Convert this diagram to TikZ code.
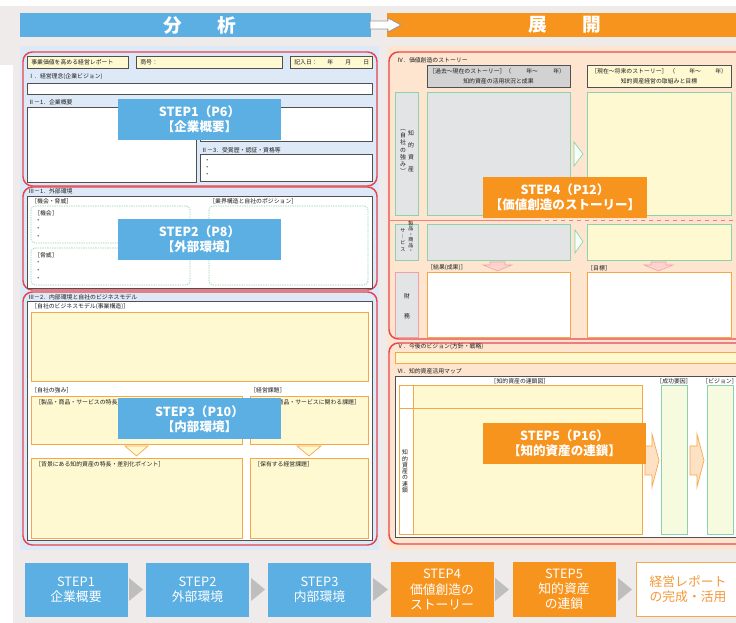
\documentclass[tikz,border=0pt]{standalone}
\usepackage{fontspec}
\setmainfont{Noto Sans CJK JP}
\definecolor{bl}{RGB}{91,175,226}
\definecolor{orn}{RGB}{247,148,30}
\definecolor{lbg}{RGB}{221,233,246}
\definecolor{rbg}{RGB}{253,229,208}
\definecolor{obg}{RGB}{238,235,234}
\definecolor{red1}{RGB}{230,70,80}
\definecolor{yl}{RGB}{255,249,210}
\definecolor{ob}{RGB}{246,168,73}
\definecolor{gb}{RGB}{140,210,172}
\definecolor{gf}{RGB}{227,228,230}
\definecolor{dk}{RGB}{80,80,80}
\definecolor{gh}{RGB}{210,210,210}
\definecolor{pk}{RGB}{244,160,160}
\definecolor{pk2}{RGB}{240,130,130}
\definecolor{pkf}{RGB}{252,212,205}
\definecolor{tri}{RGB}{190,190,190}
\definecolor{txt}{RGB}{30,30,30}
\definecolor{gy2}{RGB}{246,250,222}
\definecolor{baf}{RGB}{253,225,195}
\definecolor{orl}{RGB}{243,154,58}
\tikzset{
  tx/.style={font=\fontsize{4.4}{5}\selectfont, text=txt, inner sep=0pt, anchor=west},
  txc/.style={tx, anchor=center},
  vt/.style={font=\fontsize{4.4}{#1}\selectfont, text=txt, inner sep=0pt, align=center},
  redbox/.style={draw=red1, line width=1.1pt, rounded corners=7pt},
  dkbox/.style={draw=dk, line width=0.7pt},
  yb/.style={fill=yl, draw=ob, line width=0.6pt},
  gbx/.style={fill=gf, draw=gb, line width=0.6pt},
  gyb/.style={fill=yl, draw=gb, line width=0.6pt},
  wob/.style={fill=white, draw=ob, line width=0.6pt},
  dgb/.style={fill=white, draw=gb, line width=0.5pt, dash pattern=on 1pt off 0.8pt, rounded corners=3pt},
  lbl/.style={text=white, font=\bfseries\fontsize{9.4}{11.5}\selectfont, align=center, minimum width=122.5pt, minimum height=30.75pt, inner sep=0pt},
  bst/.style={text=white, font=\fontsize{9.6}{11.3}\selectfont, align=center, minimum width=77.25pt, minimum height=40.5pt, inner sep=0pt},
  htxt/.style={text=white, font=\bfseries\fontsize{14}{16}\selectfont},
  downtri/.style={fill=yl, draw=ob, line width=0.5pt},
  pinkarrow/.style={fill=pkf, draw=pk, line width=0.4pt},
  greentri/.style={fill=green!4, draw=gb, line width=0.5pt},
  blockarrow/.style={fill=baf, draw=ob, line width=0.5pt},
}
\begin{document}
\begin{tikzpicture}[x=0.75pt,y=-0.75pt]
\useasboundingbox (0,0) rectangle (736,623);
\clip (0,0) rectangle (736,623);
\fill[obg] (13,6) rectangle (736,623);
\fill[obg] (0,6) rectangle (13,65);
% headers
\fill[bl] (20,13) rectangle (371,37);
\fill[orn] (387,13) rectangle (736,37);
\node[htxt] (hL) at (200,25) {分\hspace{1.9em}析};
\node[htxt] (hR) at (565,25) {展\hspace{1.9em}開};
\draw[fill=white, draw=gray!80, line width=0.6pt] (370,21) -- (388,21) -- (388,18) -- (401,25) -- (388,32) -- (388,29) -- (370,29) -- cycle;
% panels
\fill[lbg] (20,46) rectangle (379,550);
\fill[rbg] (387,46) rectangle (736,550);

% ---------- STEP1 ----------
\draw[redbox] (23,52) rectangle (377,186);
\draw[dkbox, fill=yl] (27,56) rectangle (128,68);
\draw[dkbox, fill=yl] (136,56) rectangle (282,68);
\draw[dkbox, fill=yl] (290,56) rectangle (372,68);
\node[tx] (t1) at (31,62) {事業価値を高める経営レポート};
\node[tx] (t2) at (140,62) {商号：};
\node[tx] (t3) at (294,62) {記入日：};
\node[tx] (t3y) at (327,62) {年};
\node[tx] (t3m) at (345,62) {月};
\node[tx] (t3d) at (363,62) {日};
\node[tx] (t4) at (28,77) {Ⅰ．経営理念(企業ビジョン)};
\draw[dkbox, fill=white] (27,83) rectangle (372,94);
\node[tx] (t5) at (28,102) {Ⅱ－1．企業概要};
\draw[dkbox, fill=white] (27,107) rectangle (196,182);
\draw[dkbox, fill=white] (200,107) rectangle (372,141);
\node[tx] (t6) at (201,150) {Ⅱ－3．受賞歴・認証・資格等};
\draw[dkbox, fill=white] (200,154) rectangle (372,181);
\node[tx] (t6a) at (204,161) {・};
\node[tx] (t6b) at (204,168) {・};
\node[tx] (t6c) at (204,175) {・};
\node[lbl, fill=bl] (s1) at (199.5,119.5) {STEP1（P6）\\【企業概要】};

% ---------- STEP2 ----------
\draw[redbox] (23,187) rectangle (377,290);
\node[tx] (t7) at (28,191) {Ⅲ－1．外部環境};
\draw[dkbox, fill=white] (27,196) rectangle (372,288);
\node[tx] (t8) at (31,201) {［機会・脅威］};
\node[tx] (t9) at (209,201) {［業界構造と自社のポジション］};
\draw[dgb] (31,206) rectangle (190,243);
\draw[dgb] (31,248) rectangle (190,285);
\draw[dgb] (209,206) rectangle (368,285);
\node[tx] (t10) at (34,213) {［機会］};
\node[tx] (t10a) at (35,221) {・};
\node[tx] (t10b) at (35,229) {・};
\node[tx] (t10c) at (35,237) {・};
\node[tx] (t11) at (34,255) {［脅威］};
\node[tx] (t11a) at (35,263) {・};
\node[tx] (t11b) at (35,271) {・};
\node[tx] (t11c) at (35,279) {・};
\node[lbl, fill=bl] (s2) at (199.5,239.5) {STEP2（P8）\\【外部環境】};

% ---------- STEP3 ----------
\draw[redbox] (23,292) rectangle (377,545);
\node[tx] (t12) at (28,297) {Ⅲ－2．内部環境と自社のビジネスモデル};
\draw[dkbox, fill=white] (27,301) rectangle (372,540);
\node[tx] (t13) at (31,307) {［自社のビジネスモデル(事業構造)］};
\draw[yb] (31,312) rectangle (368,381);
\node[tx] (t14) at (31,390) {［自社の強み］};
\node[tx] (t15) at (250,390) {［経営課題］};
\draw[yb] (31,396) rectangle (242,444);
\draw[yb] (250,396) rectangle (368,444);
\node[tx] (t16) at (35,402) {［製品・商品・サービスの特長］};
\node[tx] (t17) at (254,402) {［製品・商品・サービスに関わる課題］};
\draw[downtri] (125,446) -- (148,446) -- (136.5,456) -- cycle;
\draw[downtri] (297,446) -- (321,446) -- (309,456) -- cycle;
\draw[yb] (31,458) rectangle (242,538);
\draw[yb] (250,458) rectangle (368,538);
\node[tx] (t18) at (35,464) {［背景にある知的資産の特長・差別化ポイント］};
\node[tx] (t19) at (254,464) {［保有する経営課題］};
\node[lbl, fill=bl] (s3) at (199.5,419) {STEP3（P10）\\【内部環境】};

% ---------- STEP4 ----------
\draw[redbox] (389,52) rectangle (750,339);
\node[tx] (t20) at (397,60) {Ⅳ．価値創造のストーリー};
\draw[dkbox, fill=gh] (427,65) rectangle (570,87);
\draw[dkbox, fill=yl] (587,65) rectangle (731,87);
\node[tx] (t21) at (429,71) {［過去～現在のストーリー］};
\node[tx] (t21a) at (505,71) {（};
\node[tx] (t21b) at (526,71) {年～};
\node[tx] (t21c) at (553,71) {年）};
\node[txc] (t22) at (498.5,81) {知的資産の活用状況と成果};
\node[tx] (t23) at (591,71) {［現在～将来のストーリー］};
\node[tx] (t23a) at (669,71) {（};
\node[tx] (t23b) at (689,71) {年～};
\node[tx] (t23c) at (715,71) {年）};
\node[txc] (t24) at (659,81) {知的資産経営の取組みと目標};
\draw[gbx] (395,92) rectangle (418,215);
\draw[gbx] (427,92) rectangle (570,215);
\draw[gyb] (587,92) rectangle (731,215);
\draw[greentri] (574,142) -- (583,154) -- (574,166) -- cycle;
\node[vt=9] (t25) at (411,151.5) {知\\的\\資\\産};
\node[vt=5.4] (t26) at (403,151.5) {︵\\自\\社\\の\\強\\み\\︶};
\draw[pk2, line width=0.6pt] (389,220) -- (537,220);
\draw[pk2, line width=0.6pt, dashed] (537,220) -- (745,220);
\draw[gbx] (395,224) rectangle (418,260);
\draw[gbx] (427,224) rectangle (570,260);
\draw[gyb] (587,224) rectangle (731,260);
\draw[greentri] (575,230) -- (583,241.5) -- (575,253) -- cycle;
\node[font=\fontsize{3.8}{4.1}\selectfont, text=txt, inner sep=0pt, align=center] (t27) at (411,237) {製\\品\\・\\商\\品\\・};
\node[font=\fontsize{3.8}{4.6}\selectfont, text=txt, inner sep=0pt, align=center] (t28) at (403,240) {サ\\︱\\ビ\\ス};
\draw[pinkarrow] (490,262) -- (505,262) -- (505,265) -- (512,265) -- (497.5,271) -- (483,265) -- (490,265) -- cycle;
\draw[pinkarrow] (651,262) -- (666,262) -- (666,265) -- (673,265) -- (658.5,271) -- (644,265) -- (651,265) -- cycle;
\node[tx] (t29) at (427,268) {［結果(成果)］};
\node[tx] (t30) at (587,268) {［目標］};
\draw[fill=gf, draw=pk, line width=0.6pt] (395,272) rectangle (418,337);
\draw[wob] (427,272) rectangle (570,337);
\draw[wob] (587,272) rectangle (731,337);
\node[vt=15] (t31) at (407,306) {財\\務};
\node[lbl, fill=orn] (s4) at (565,197.5) {STEP4（P12）\\【価値創造のストーリー】};

% ---------- STEP5 ----------
\draw[redbox] (389,343) rectangle (750,544);
\node[tx] (t32) at (397,347) {Ⅴ．今後のビジョン(方針・戦略)};
\draw[yb] (395,352) rectangle (745,363);
\node[tx] (t33) at (397,371) {Ⅵ．知的資産活用マップ};
\draw[dkbox, fill=white] (395,376) rectangle (745,537);
\node[txc] (t34) at (520,381) {［知的資産の連鎖図］};
\node[txc] (t35) at (674,381) {［成功要因］};
\node[txc] (t36) at (720,381) {［ビジョン］};
\fill[yl] (413,385) rectangle (642,534);
\draw[ob, line width=0.6pt] (399,385) rectangle (642,534);
\draw[ob, line width=0.6pt] (413,385) -- (413,534);
\draw[ob, line width=0.6pt] (399,408) -- (642,408);
\node[vt=4.7] (t37) at (405,471.5) {知\\的\\資\\産\\の\\連\\鎖};
\draw[fill=gy2, draw=gb, line width=0.6pt] (661,385) rectangle (687,534);
\draw[fill=gy2, draw=gb, line width=0.6pt] (707,385) rectangle (733,534);
\draw[blockarrow] (645,446) -- (652,446) -- (652,434) -- (659,460.5) -- (652,487) -- (652,475) -- (645,475) -- cycle;
\draw[blockarrow] (690,446) -- (697,446) -- (697,434) -- (704,460.5) -- (697,487) -- (697,475) -- (690,475) -- cycle;
\node[lbl, fill=orn] (s5) at (564.5,443.5) {STEP5（P16）\\【知的資産の連鎖】};

% ---------- bottom flow ----------
\node[bst, fill=bl] (B1) at (76,590) {STEP1\\企業概要};
\node[bst, fill=bl] (B2) at (197.5,590) {STEP2\\外部環境};
\node[bst, fill=bl] (B3) at (319.5,590) {STEP3\\内部環境};
\node[bst, fill=orn] (B4) at (442,589.5) {STEP4\\価値創造の\\ストーリー};
\node[bst, fill=orn] (B5) at (564,589.5) {STEP5\\知的資産\\の連鎖};
\node[bst, fill=white, draw=ob, text=orl, line width=0.8pt] (B6) at (688,589.5) {経営レポート\\の完成・活用};
\fill[tri] (129,578) -- (143,589.5) -- (129,601) -- cycle;
\fill[tri] (251,578) -- (265,589.5) -- (251,601) -- cycle;
\fill[tri] (373,578) -- (388,589.5) -- (373,601) -- cycle;
\fill[tri] (495,578) -- (509,589.5) -- (495,601) -- cycle;
\fill[tri] (618,578) -- (632,589.5) -- (618,601) -- cycle;
\end{tikzpicture}
\end{document}
